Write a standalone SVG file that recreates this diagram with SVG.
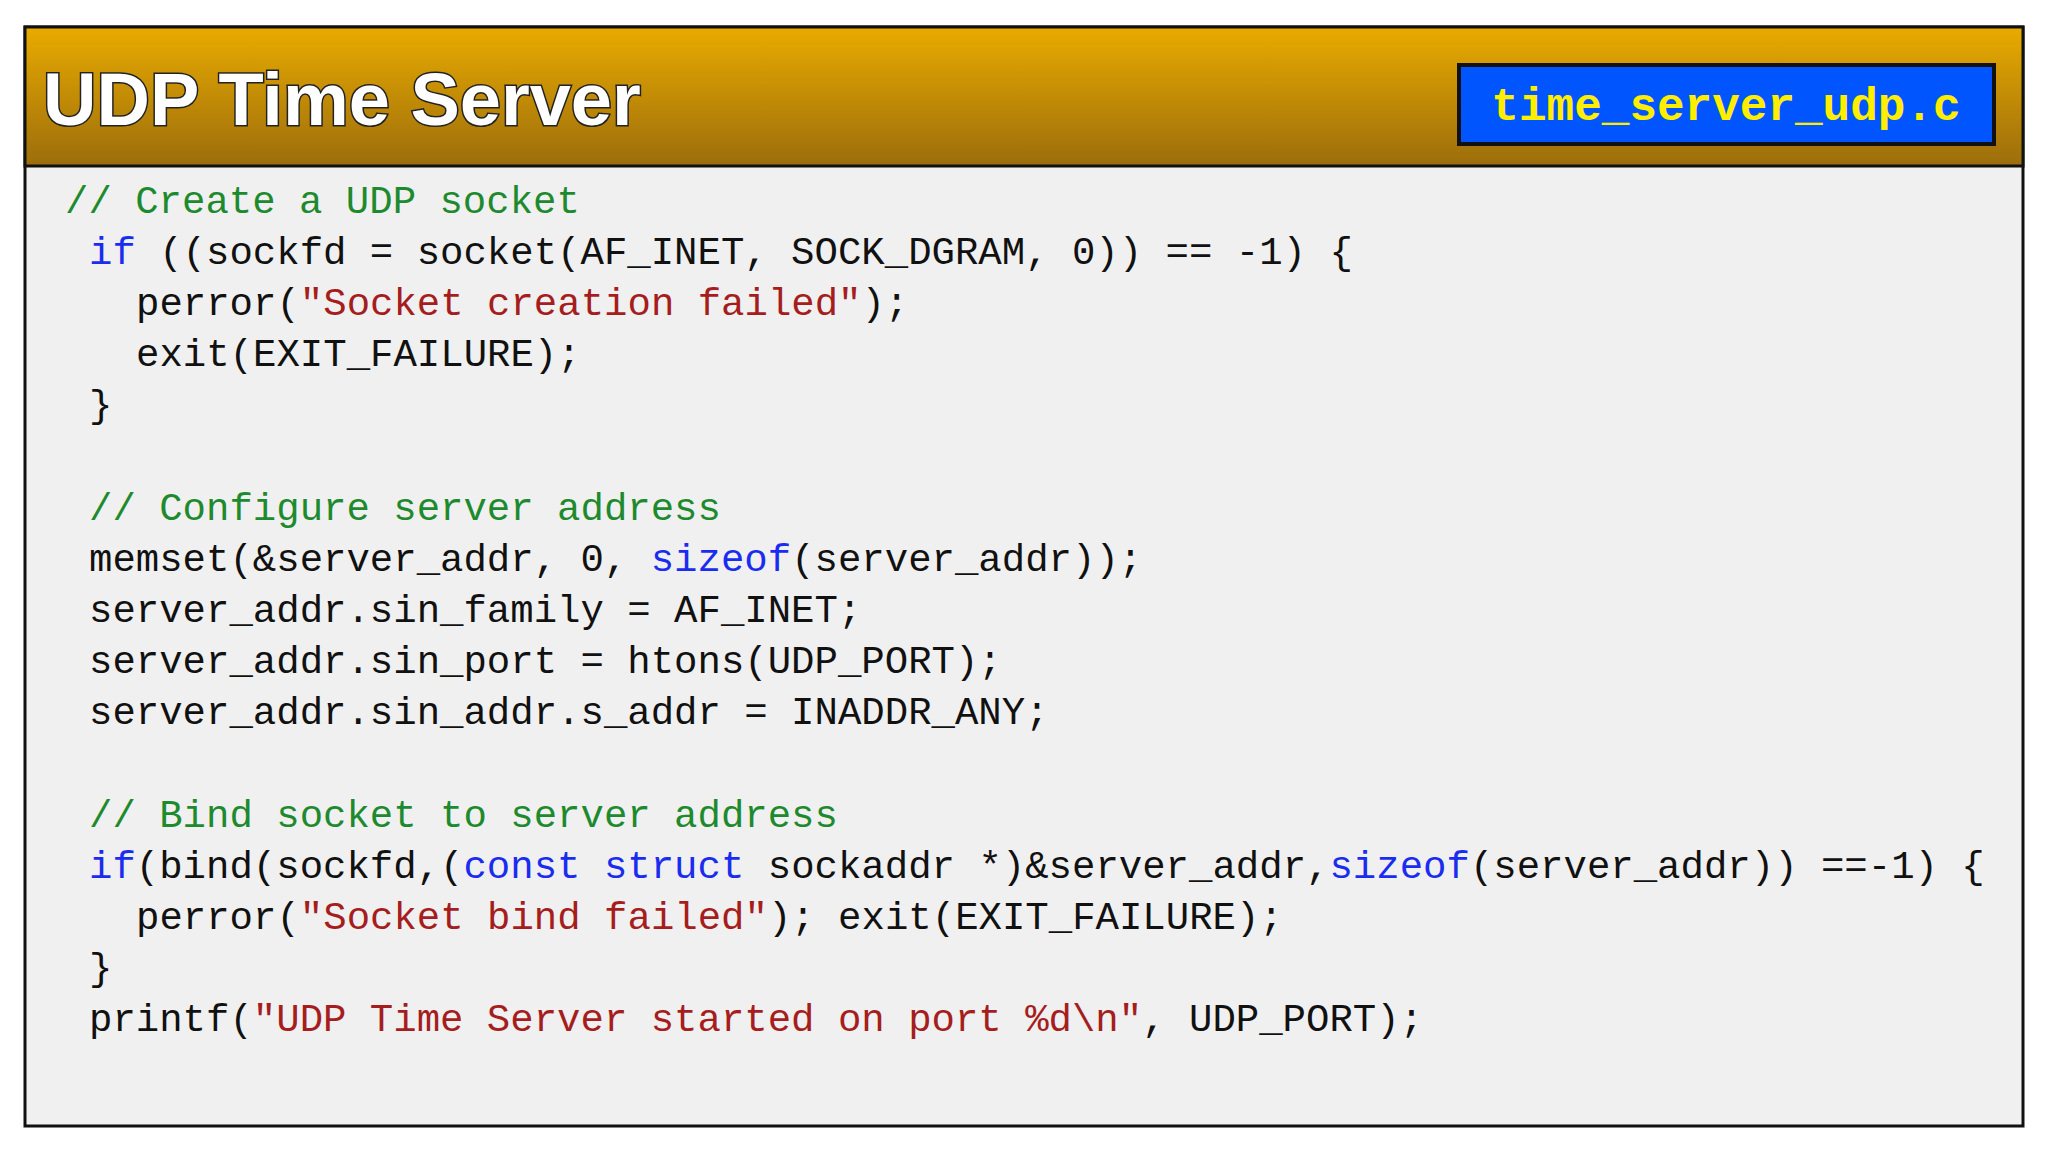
<svg xmlns="http://www.w3.org/2000/svg" width="2048" height="1152" viewBox="0 0 2048 1152">
<defs>
<linearGradient id="hg" x1="0" y1="0" x2="0" y2="1">
<stop offset="0" stop-color="#e9ab00"/><stop offset="1" stop-color="#9c6d0c"/>
</linearGradient>
<style>
.code{font-family:"Liberation Mono","DejaVu Sans Mono",monospace;font-size:39px;fill:#111}
.c{fill:#1e8a2e}.k{fill:#1a2cf0}.s{fill:#a51d1d}
.title{font-family:"Liberation Sans",Arial,sans-serif;font-weight:bold;font-size:74px;fill:#fff;stroke:#222;stroke-width:3;paint-order:stroke}
.fn{font-family:"Liberation Mono","DejaVu Sans Mono",monospace;font-weight:bold;font-size:46px;fill:#ffee00}
</style>
</defs>
<rect width="2048" height="1152" fill="#fff"/>
<g id="frame">
<rect x="25" y="27" width="1998" height="1099" fill="#f0f0f0" stroke="#111" stroke-width="3"/>
<rect x="25" y="27" width="1998" height="139" fill="url(#hg)" stroke="#111" stroke-width="3"/>
<text class="title" x="43" y="125">UDP Time Server</text>
</g>
<g id="filename">
<rect x="1459" y="65" width="535" height="79" fill="#0055ff" stroke="#111" stroke-width="4"/>
<text class="fn" x="1726" y="120" text-anchor="middle">time_server_udp.c</text>
</g>
<g id="code" class="code" xml:space="preserve">
<text x="65" y="213" class="c">// Create a UDP socket</text>
<text x="89" y="264"><tspan class="k">if</tspan> ((sockfd = socket(AF_INET, SOCK_DGRAM, 0)) == -1) {</text>
<text x="136" y="315">perror(<tspan class="s">"Socket creation failed"</tspan>);</text>
<text x="136" y="366">exit(EXIT_FAILURE);</text>
<text x="89" y="417">}</text>
<text x="89" y="520" class="c">// Configure server address</text>
<text x="89" y="571">memset(&amp;server_addr, 0, <tspan class="k">sizeof</tspan>(server_addr));</text>
<text x="89" y="622">server_addr.sin_family = AF_INET;</text>
<text x="89" y="673">server_addr.sin_port = htons(UDP_PORT);</text>
<text x="89" y="724">server_addr.sin_addr.s_addr = INADDR_ANY;</text>
<text x="89" y="827" class="c">// Bind socket to server address</text>
<text x="89" y="878"><tspan class="k">if</tspan>(bind(sockfd,(<tspan class="k">const</tspan> <tspan class="k">struct</tspan> sockaddr *)&amp;server_addr,<tspan class="k">sizeof</tspan>(server_addr)) ==-1) {</text>
<text x="136" y="929">perror(<tspan class="s">"Socket bind failed"</tspan>); exit(EXIT_FAILURE);</text>
<text x="89" y="980">}</text>
<text x="89" y="1031">printf(<tspan class="s">"UDP Time Server started on port %d\n"</tspan>, UDP_PORT);</text>
</g>
</svg>
